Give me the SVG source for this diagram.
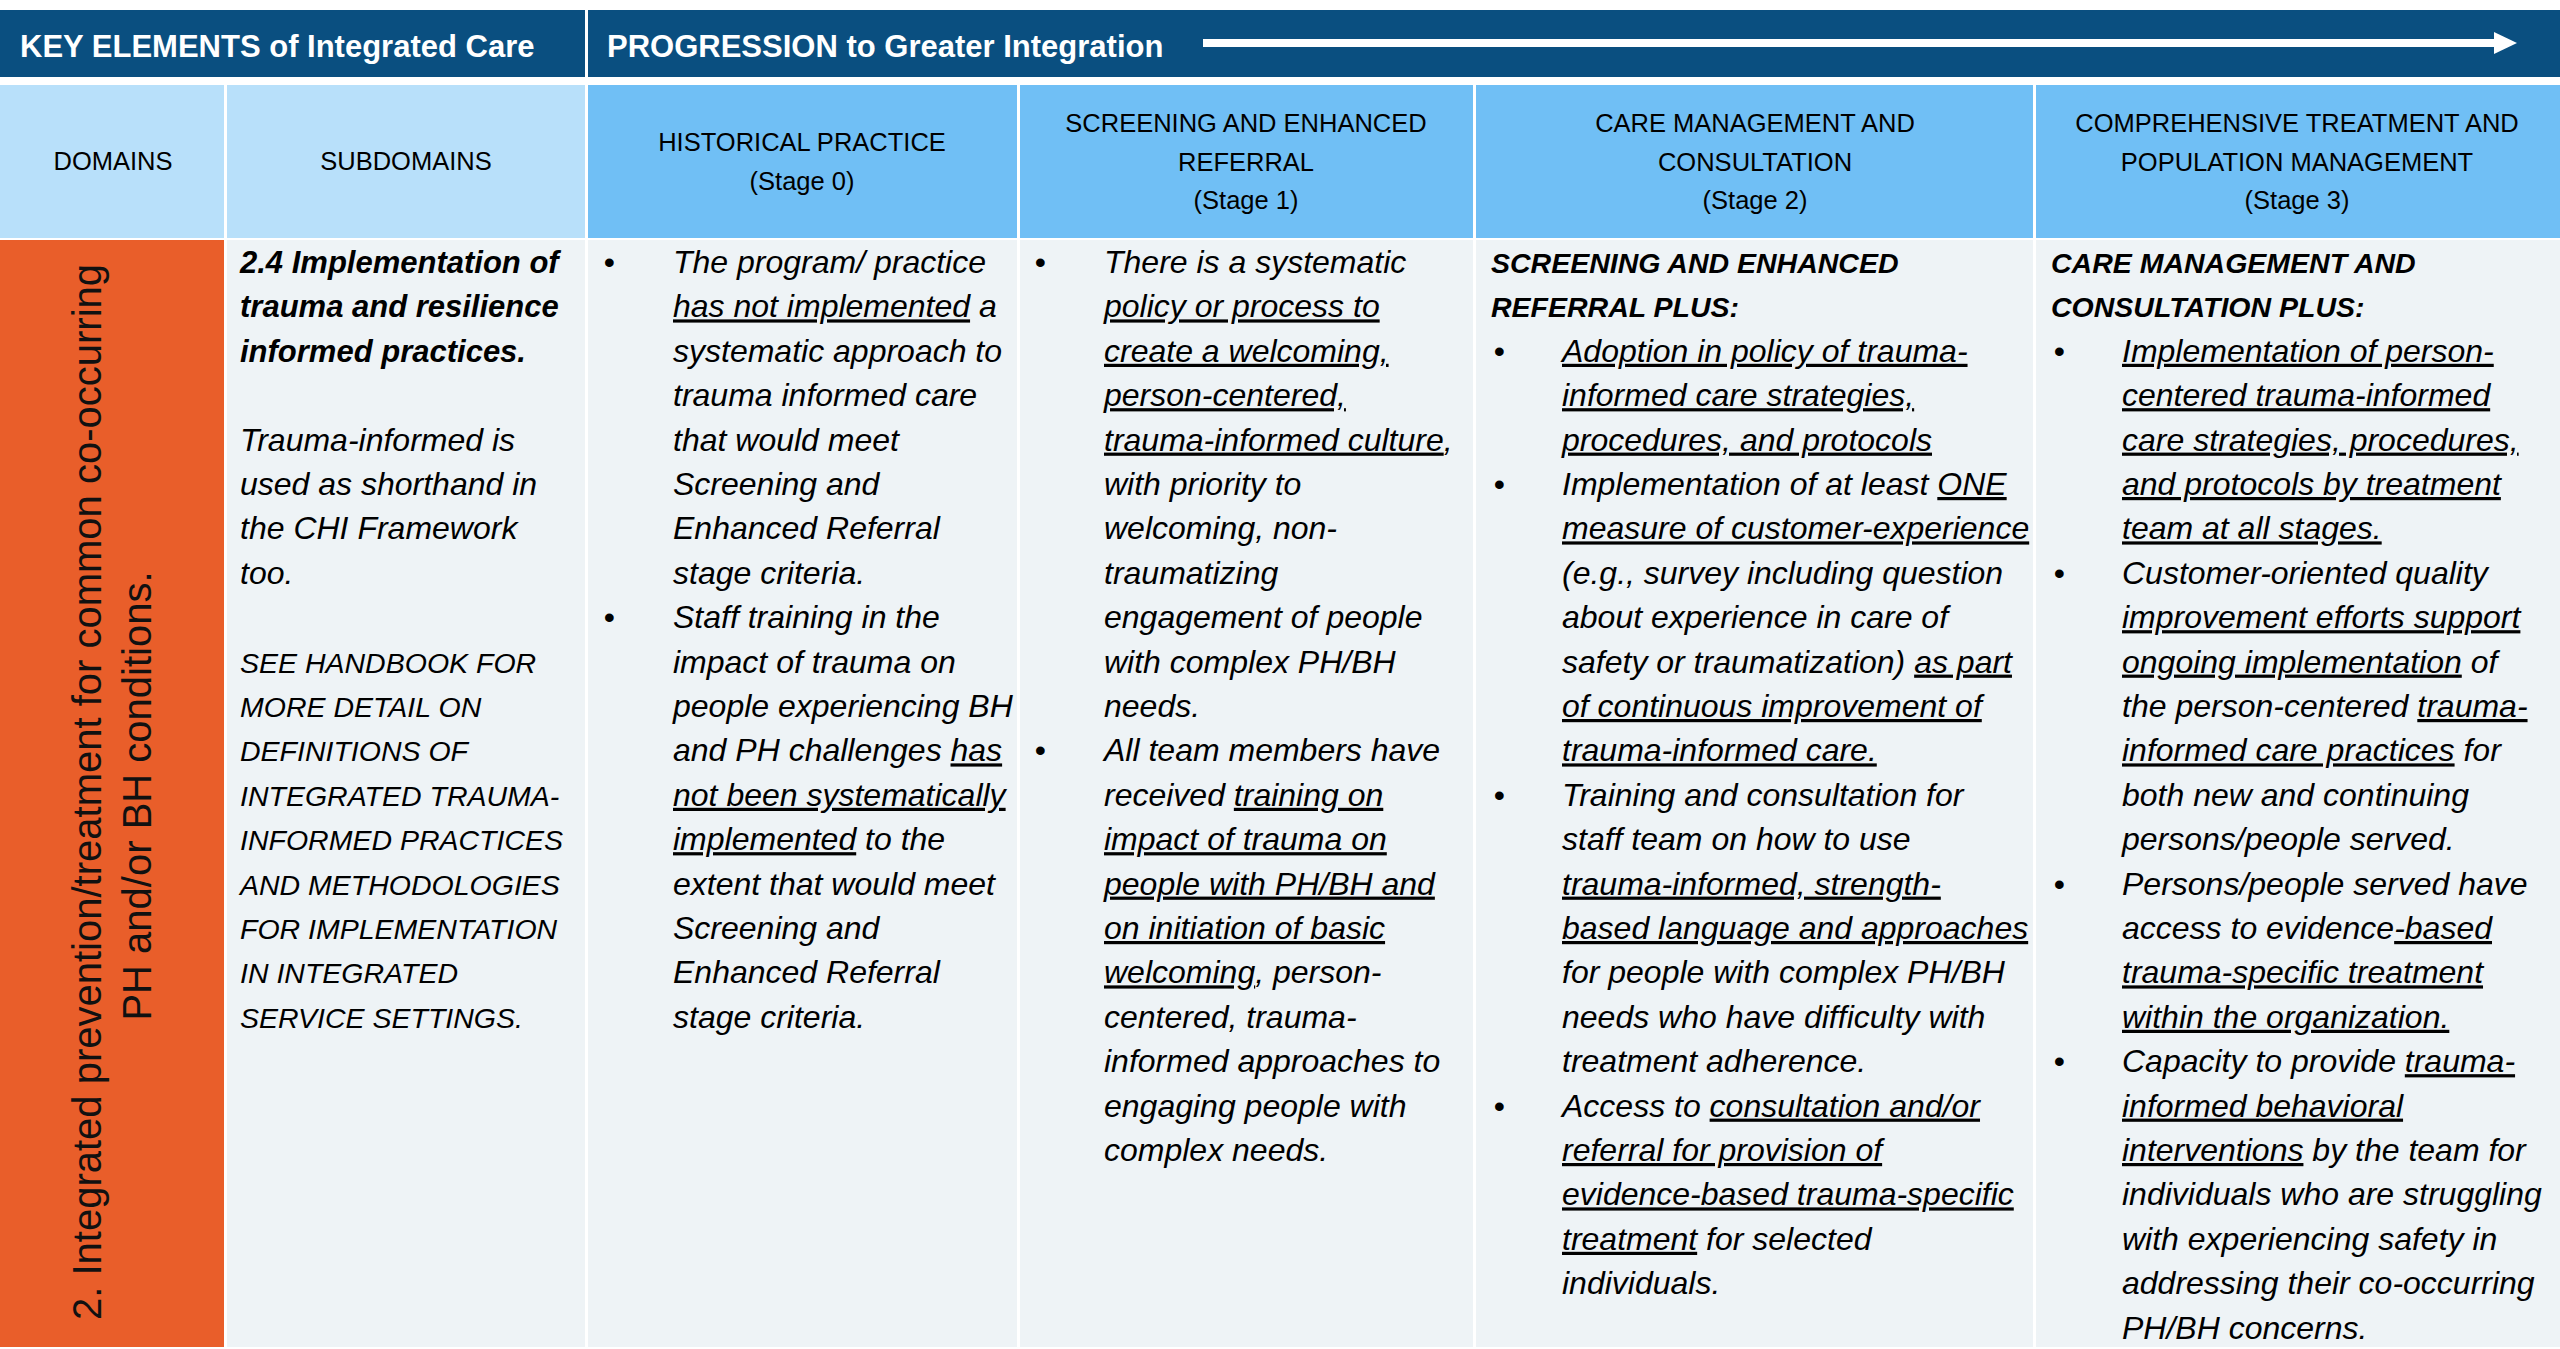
<svg xmlns="http://www.w3.org/2000/svg" width="2560" height="1349" viewBox="0 0 2560 1349">
<defs>
<style>
text{font-family:'Liberation Sans',Arial,sans-serif;fill:#000}
.bar{fill:#fff;font-weight:bold;font-size:31px}
.hd{font-size:25.5px;text-anchor:middle}
.tx{font-size:32px;font-style:italic}
.bi{font-weight:bold}
.cap{font-size:28.5px}
.u{text-decoration:underline}
.dom{font-size:40px;text-anchor:middle;fill:#111}
.dark{fill:#0A4F80}
.lb{fill:#B8E0FA}
.mb{fill:#70BFF5}
.body{fill:#EEF3F6}
.or{fill:#E95E2A}
</style>
<marker id="ah" markerUnits="userSpaceOnUse" markerWidth="24" markerHeight="23" refX="0" refY="11" orient="auto">
<path d="M0,0 L23,11 L0,22 Z" fill="#fff"/>
</marker>
</defs>
<rect width="2560" height="1349" fill="#fff"/>

<g id="hdr-key">
<rect class="dark" x="0" y="10" width="585" height="67"/>
<text class="bar" x="20" y="57">KEY ELEMENTS of Integrated Care</text>
</g>
<g id="hdr-progression">
<rect class="dark" x="588" y="10" width="1972" height="67"/>
<text class="bar" x="607" y="57">PROGRESSION to Greater Integration</text>
</g>
<g id="connectors">
<line x1="1203" y1="43" x2="2494" y2="43" stroke="#fff" stroke-width="8" marker-end="url(#ah)"/>
</g>

<g id="hdr-domains">
<rect class="lb" x="0" y="85" width="224" height="153"/>
<text class="hd" x="113" y="170">DOMAINS</text>
</g>
<g id="hdr-subdomains">
<rect class="lb" x="227" y="85" width="358" height="153"/>
<text class="hd" x="406" y="170">SUBDOMAINS</text>
</g>
<g id="hdr-stage0">
<rect class="mb" x="588" y="85" width="429" height="153"/>
<text class="hd"><tspan x="802" y="151">HISTORICAL PRACTICE</tspan><tspan x="802" y="189.5">(Stage 0)</tspan></text>
</g>
<g id="hdr-stage1">
<rect class="mb" x="1020" y="85" width="453" height="153"/>
<text class="hd"><tspan x="1246" y="132">SCREENING AND ENHANCED</tspan><tspan x="1246" y="170.5">REFERRAL</tspan><tspan x="1246" y="209">(Stage 1)</tspan></text>
</g>
<g id="hdr-stage2">
<rect class="mb" x="1476" y="85" width="557" height="153"/>
<text class="hd"><tspan x="1755" y="132">CARE MANAGEMENT AND</tspan><tspan x="1755" y="170.5">CONSULTATION</tspan><tspan x="1755" y="209">(Stage 2)</tspan></text>
</g>
<g id="hdr-stage3">
<rect class="mb" x="2036" y="85" width="524" height="153"/>
<text class="hd"><tspan x="2297" y="132">COMPREHENSIVE TREATMENT AND</tspan><tspan x="2297" y="170.5">POPULATION MANAGEMENT</tspan><tspan x="2297" y="209">(Stage 3)</tspan></text>
</g>

<g id="cell-domain">
<rect class="or" x="0" y="240" width="224" height="1107"/>
<text class="dom" transform="translate(101,792) rotate(-90)" x="0" y="0">2. Integrated prevention/treatment for common co-occurring</text>
<text class="dom" transform="translate(151,796) rotate(-90)" x="0" y="0">PH and/or BH conditions.</text>
</g>

<g id="cell-subdomain">
<rect class="body" x="227" y="240" width="358" height="1107"/>
<text class="tx">
<tspan class="bi" font-size="31" x="240" y="273">2.4 Implementation of</tspan>
<tspan class="bi" font-size="31" x="240" y="317.4">trauma and resilience</tspan>
<tspan class="bi" font-size="31" x="240" y="361.8">informed practices.</tspan>
<tspan x="240" y="450.6">Trauma-informed is</tspan>
<tspan x="240" y="495">used as shorthand in</tspan>
<tspan x="240" y="539.4">the CHI Framework</tspan>
<tspan x="240" y="583.8">too.</tspan>
<tspan class="cap" x="240" y="672.6">SEE HANDBOOK FOR</tspan>
<tspan class="cap" x="240" y="717">MORE DETAIL ON</tspan>
<tspan class="cap" x="240" y="761.4">DEFINITIONS OF</tspan>
<tspan class="cap" x="240" y="805.8">INTEGRATED TRAUMA-</tspan>
<tspan class="cap" x="240" y="850.2">INFORMED PRACTICES</tspan>
<tspan class="cap" x="240" y="894.6">AND METHODOLOGIES</tspan>
<tspan class="cap" x="240" y="939">FOR IMPLEMENTATION</tspan>
<tspan class="cap" x="240" y="983.4">IN INTEGRATED</tspan>
<tspan class="cap" x="240" y="1027.8">SERVICE SETTINGS.</tspan>
</text>
</g>

<g id="cell-stage0">
<rect class="body" x="588" y="240" width="429" height="1107"/>
<text class="tx" font-style="normal" text-anchor="middle"><tspan x="609" y="273">•</tspan><tspan x="609" y="628.2">•</tspan></text>
<text class="tx">
<tspan x="673" y="273">The program/ practice</tspan>
<tspan x="673" y="317.4"><tspan class="u">has not implemented</tspan> a</tspan>
<tspan x="673" y="361.8">systematic approach to</tspan>
<tspan x="673" y="406.2">trauma informed care</tspan>
<tspan x="673" y="450.6">that would meet</tspan>
<tspan x="673" y="495">Screening and</tspan>
<tspan x="673" y="539.4">Enhanced Referral</tspan>
<tspan x="673" y="583.8">stage criteria.</tspan>
<tspan x="673" y="628.2">Staff training in the</tspan>
<tspan x="673" y="672.6">impact of trauma on</tspan>
<tspan x="673" y="717">people experiencing BH</tspan>
<tspan x="673" y="761.4">and PH challenges <tspan class="u">has</tspan></tspan>
<tspan x="673" y="805.8" class="u">not been systematically</tspan>
<tspan x="673" y="850.2"><tspan class="u">implemented</tspan> to the</tspan>
<tspan x="673" y="894.6">extent that would meet</tspan>
<tspan x="673" y="939">Screening and</tspan>
<tspan x="673" y="983.4">Enhanced Referral</tspan>
<tspan x="673" y="1027.8">stage criteria.</tspan>
</text>
</g>

<g id="cell-stage1">
<rect class="body" x="1020" y="240" width="453" height="1107"/>
<text class="tx" font-style="normal" text-anchor="middle"><tspan x="1040" y="273">•</tspan><tspan x="1040" y="761.4">•</tspan></text>
<text class="tx">
<tspan x="1104" y="273">There is a systematic</tspan>
<tspan x="1104" y="317.4" class="u">policy or process to</tspan>
<tspan x="1104" y="361.8" class="u">create a welcoming,</tspan>
<tspan x="1104" y="406.2" class="u">person-centered,</tspan>
<tspan x="1104" y="450.6"><tspan class="u">trauma-informed culture</tspan>,</tspan>
<tspan x="1104" y="495">with priority to</tspan>
<tspan x="1104" y="539.4">welcoming, non-</tspan>
<tspan x="1104" y="583.8">traumatizing</tspan>
<tspan x="1104" y="628.2">engagement of people</tspan>
<tspan x="1104" y="672.6">with complex PH/BH</tspan>
<tspan x="1104" y="717">needs.</tspan>
<tspan x="1104" y="761.4">All team members have</tspan>
<tspan x="1104" y="805.8">received <tspan class="u">training on</tspan></tspan>
<tspan x="1104" y="850.2" class="u">impact of trauma on</tspan>
<tspan x="1104" y="894.6" class="u">people with PH/BH and</tspan>
<tspan x="1104" y="939" class="u">on initiation of basic</tspan>
<tspan x="1104" y="983.4"><tspan class="u">welcoming</tspan>, person-</tspan>
<tspan x="1104" y="1027.8">centered, trauma-</tspan>
<tspan x="1104" y="1072.2">informed approaches to</tspan>
<tspan x="1104" y="1116.6">engaging people with</tspan>
<tspan x="1104" y="1161">complex needs.</tspan>
</text>
</g>

<g id="cell-stage2">
<rect class="body" x="1476" y="240" width="557" height="1107"/>
<text class="tx" font-style="normal" text-anchor="middle"><tspan x="1499" y="361.8">•</tspan><tspan x="1499" y="495">•</tspan><tspan x="1499" y="805.8">•</tspan><tspan x="1499" y="1116.6">•</tspan></text>
<text class="tx">
<tspan class="bi cap" x="1491" y="273">SCREENING AND ENHANCED</tspan>
<tspan class="bi cap" x="1491" y="317.4">REFERRAL PLUS:</tspan>
<tspan x="1562" y="361.8" class="u">Adoption in policy of trauma-</tspan>
<tspan x="1562" y="406.2" class="u">informed care strategies,</tspan>
<tspan x="1562" y="450.6" class="u">procedures, and protocols</tspan>
<tspan x="1562" y="495">Implementation of at least <tspan class="u">ONE</tspan></tspan>
<tspan x="1562" y="539.4" class="u">measure of customer-experience</tspan>
<tspan x="1562" y="583.8">(e.g., survey including question</tspan>
<tspan x="1562" y="628.2">about experience in care of</tspan>
<tspan x="1562" y="672.6">safety or traumatization) <tspan class="u">as part</tspan></tspan>
<tspan x="1562" y="717" class="u">of continuous improvement of</tspan>
<tspan x="1562" y="761.4" class="u">trauma-informed care.</tspan>
<tspan x="1562" y="805.8">Training and consultation for</tspan>
<tspan x="1562" y="850.2">staff team on how to use</tspan>
<tspan x="1562" y="894.6" class="u">trauma-informed, strength-</tspan>
<tspan x="1562" y="939" class="u">based language and approaches</tspan>
<tspan x="1562" y="983.4">for people with complex PH/BH</tspan>
<tspan x="1562" y="1027.8">needs who have difficulty with</tspan>
<tspan x="1562" y="1072.2">treatment adherence.</tspan>
<tspan x="1562" y="1116.6">Access to <tspan class="u">consultation and/or</tspan></tspan>
<tspan x="1562" y="1161" class="u">referral for provision of</tspan>
<tspan x="1562" y="1205.4" class="u">evidence-based trauma-specific</tspan>
<tspan x="1562" y="1249.8"><tspan class="u">treatment</tspan> for selected</tspan>
<tspan x="1562" y="1294.2">individuals.</tspan>
</text>
</g>

<g id="cell-stage3">
<rect class="body" x="2036" y="240" width="524" height="1107"/>
<text class="tx" font-style="normal" text-anchor="middle"><tspan x="2059" y="361.8">•</tspan><tspan x="2059" y="583.8">•</tspan><tspan x="2059" y="894.6">•</tspan><tspan x="2059" y="1072.2">•</tspan></text>
<text class="tx">
<tspan class="bi cap" x="2051" y="273">CARE MANAGEMENT AND</tspan>
<tspan class="bi cap" x="2051" y="317.4">CONSULTATION PLUS:</tspan>
<tspan x="2122" y="361.8" class="u">Implementation of person-</tspan>
<tspan x="2122" y="406.2" class="u">centered trauma-informed</tspan>
<tspan x="2122" y="450.6" class="u">care strategies, procedures,</tspan>
<tspan x="2122" y="495" class="u">and protocols by treatment</tspan>
<tspan x="2122" y="539.4" class="u">team at all stages.</tspan>
<tspan x="2122" y="583.8">Customer-oriented quality</tspan>
<tspan x="2122" y="628.2" class="u">improvement efforts support</tspan>
<tspan x="2122" y="672.6"><tspan class="u">ongoing implementation</tspan> of</tspan>
<tspan x="2122" y="717">the person-centered <tspan class="u">trauma-</tspan></tspan>
<tspan x="2122" y="761.4"><tspan class="u">informed care practices</tspan> for</tspan>
<tspan x="2122" y="805.8">both new and continuing</tspan>
<tspan x="2122" y="850.2">persons/people served.</tspan>
<tspan x="2122" y="894.6">Persons/people served have</tspan>
<tspan x="2122" y="939">access to evidence<tspan class="u">-based</tspan></tspan>
<tspan x="2122" y="983.4" class="u">trauma-specific treatment</tspan>
<tspan x="2122" y="1027.8" class="u">within the organization.</tspan>
<tspan x="2122" y="1072.2">Capacity to provide <tspan class="u">trauma-</tspan></tspan>
<tspan x="2122" y="1116.6" class="u">informed behavioral</tspan>
<tspan x="2122" y="1161"><tspan class="u">interventions</tspan> by the team for</tspan>
<tspan x="2122" y="1205.4">individuals who are struggling</tspan>
<tspan x="2122" y="1249.8">with experiencing safety in</tspan>
<tspan x="2122" y="1294.2">addressing their co-occurring</tspan>
<tspan x="2122" y="1338.6">PH/BH concerns.</tspan>
</text>
</g>
</svg>
